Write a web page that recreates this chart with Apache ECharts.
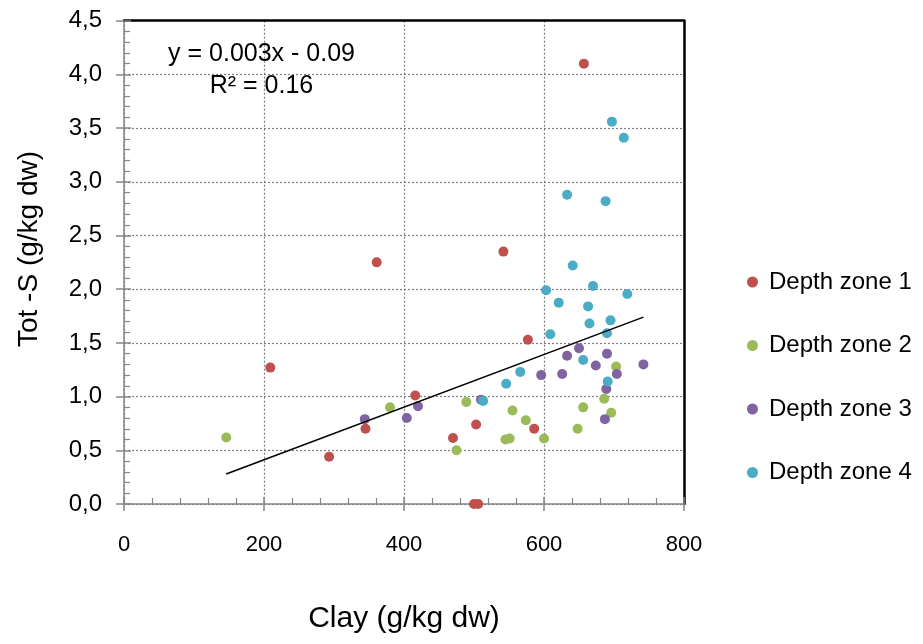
<!DOCTYPE html>
<html>
<head>
<meta charset="utf-8">
<script src="https://cdn.jsdelivr.net/npm/echarts@6/dist/echarts.min.js"></script>
<style>html,body{margin:0;padding:0;background:#fff}#c{width:923px;height:644px}</style>
</head>
<body>
<div id="c"></div>
<script>
const seriesNames = ['Depth zone 1', 'Depth zone 2', 'Depth zone 3', 'Depth zone 4'];
const zone1 = [[209,1.27],[361,2.25],[293,0.44],[345,0.70],[416,1.01],[542,2.35],[657,4.10],[577,1.53],[503,0.74],[586,0.70],[470,0.615],[500,0],[506,0]];
const zone2 = [[146,0.62],[380,0.90],[489,0.95],[555,0.87],[656,0.90],[696,0.85],[574,0.78],[648,0.70],[545,0.60],[551,0.61],[600,0.61],[475,0.50],[686,0.98],[703,1.28]];
const zone3 = [[344,0.79],[404,0.80],[420,0.91],[650,1.45],[633,1.38],[690,1.40],[674,1.29],[742,1.30],[704,1.21],[626,1.21],[596,1.20],[689,1.07],[510,0.97],[687,0.79]];
const zone4 = [[641,2.22],[603,1.99],[670,2.03],[719,1.955],[621,1.875],[663,1.84],[665,1.68],[695,1.71],[690,1.59],[609,1.58],[656,1.34],[566,1.23],[546,1.12],[691,1.14],[513,0.96],[697,3.56],[714,3.41],[633,2.88],[688,2.82]];
const trendLine = [[146,0.28],[742,1.74]];
const equationText = 'y = 0.003x - 0.09';
const r2Text = 'R² = 0.16';
const xTitle = 'Clay (g/kg dw)';
const yTitle = 'Tot -S (g/kg dw)';
const colors = ['#C0504D', '#9BBB59', '#8064A2', '#4BACC6'];

const FONT = '"Liberation Sans", Arial, sans-serif';
const chart = echarts.init(document.getElementById('c'), null, {renderer: 'canvas'});
const zones = [zone1, zone2, zone3, zone4];
const gridLine = {show: true, lineStyle: {color: '#7f7f7f', type: [2, 2], width: 1.2}};

const option = {
  animation: false,
  backgroundColor: '#fff',
  grid: {left: 124, right: 239, top: 20.7, bottom: 140, containLabel: false},
  xAxis: [{
    type: 'value', min: 0, max: 800, interval: 200, position: 'bottom',
    axisLine: {show: true, onZero: false, lineStyle: {color: '#868686', width: 1.5}},
    axisTick: {show: true, inside: true, length: 7, lineStyle: {color: '#868686', width: 1.5}},
    minorTick: {show: true, splitNumber: 5, length: 6, lineStyle: {color: '#868686', width: 1.2}},
    axisLabel: {color: '#000', fontFamily: FONT, fontSize: 22, margin: 30},
    splitLine: gridLine,
    name: xTitle, nameLocation: 'middle', nameGap: 100,
    nameTextStyle: {color: '#000', fontFamily: FONT, fontSize: 30}
  }, {
    type: 'value', min: 0, max: 800, interval: 200, position: 'top',
    axisLine: {show: true, onZero: false, lineStyle: {color: '#000', width: 2.5}},
    axisTick: {show: false}, axisLabel: {show: false}, splitLine: {show: false}
  }, {
    type: 'value', min: 0, max: 800, interval: 200, position: 'bottom',
    axisLine: {show: false, onZero: false},
    axisTick: {show: true, inside: false, length: 7, lineStyle: {color: '#868686', width: 1.5}},
    axisLabel: {show: false}, splitLine: {show: false}
  }],
  yAxis: [{
    type: 'value', min: 0, max: 4.5, interval: 0.5, position: 'left',
    axisLine: {show: true, onZero: false, lineStyle: {color: '#868686', width: 1.5}},
    axisTick: {show: true, inside: true, length: 7, lineStyle: {color: '#868686', width: 1.5}},
    minorTick: {show: true, splitNumber: 5, length: 6, lineStyle: {color: '#868686', width: 1.2}},
    axisLabel: {color: '#000', fontFamily: FONT, fontSize: 24, margin: 22,
      formatter: v => v.toFixed(1).replace('.', ',')},
    splitLine: gridLine
  }, {
    type: 'value', min: 0, max: 4.5, interval: 0.5, position: 'right',
    axisLine: {show: true, onZero: false, lineStyle: {color: '#000', width: 2.5}},
    axisTick: {show: false}, axisLabel: {show: false}, splitLine: {show: false}
  }, {
    type: 'value', min: 0, max: 4.5, interval: 0.5, position: 'left',
    axisLine: {show: false, onZero: false},
    axisTick: {show: true, inside: false, length: 8, lineStyle: {color: '#868686', width: 1.5}},
    axisLabel: {show: false}, splitLine: {show: false}
  }],
  legend: {
    orient: 'vertical', left: 742, top: 265, itemGap: 39.5,
    itemWidth: 11, itemHeight: 11, icon: 'circle',
    textStyle: {color: '#000', fontFamily: FONT, fontSize: 24, lineHeight: 24, padding: [0, 0, 0, 6]},
    data: seriesNames
  },
  graphic: [
    {type: 'text', x: 261.5, y: 54, style: {text: equationText, fill: '#000', font: '25px ' + FONT, textAlign: 'center', textVerticalAlign: 'middle'}},
    {type: 'text', x: 261.5, y: 86, style: {text: r2Text, fill: '#000', font: '25px ' + FONT, textAlign: 'center', textVerticalAlign: 'middle'}},
    {type: 'text', x: 29, y: 249, rotation: Math.PI / 2, style: {text: yTitle, fill: '#000', font: '28px ' + FONT, textAlign: 'center', textVerticalAlign: 'middle'}}
  ],
  series: zones.map((d, i) => ({
    name: seriesNames[i], type: 'scatter', data: d, symbol: 'circle', symbolSize: 10,
    itemStyle: {color: colors[i], opacity: 1}, z: 3
  })).concat([{
    name: 'trend', type: 'line', data: trendLine, symbol: 'none',
    lineStyle: {color: '#000', width: 1.6}, z: 4, silent: true
  }])
};
chart.setOption(option);
</script>
</body>
</html>
